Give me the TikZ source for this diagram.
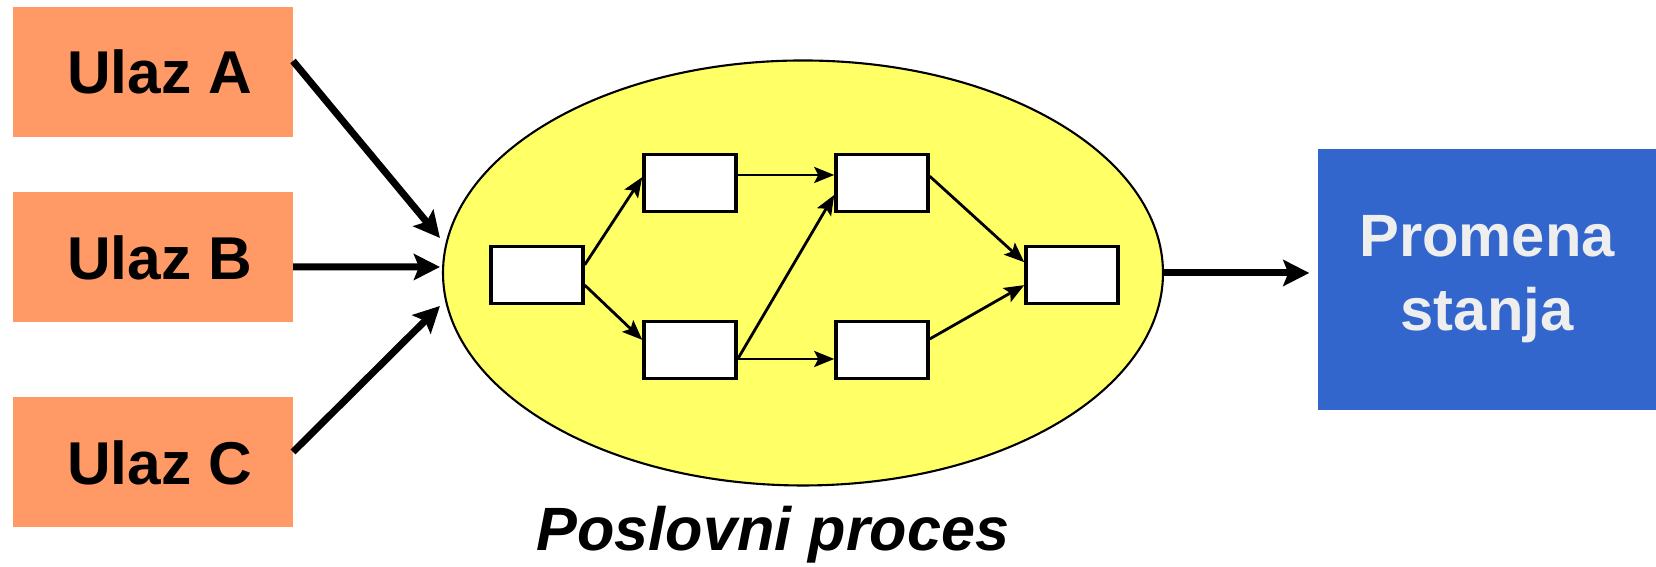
\documentclass[tikz,border=0pt]{standalone}
\usepackage{fontspec}
\setmainfont{Liberation Sans}
\usetikzlibrary{arrows.meta,shapes.geometric}

\definecolor{ulazfill}{HTML}{FF9966}
\definecolor{procfill}{HTML}{FFFF66}
\definecolor{stanjefill}{HTML}{3366CC}
\definecolor{stanjetext}{HTML}{EEEEEE}

\begin{document}
\begin{tikzpicture}[
  >={Stealth[length=2.6mm, width=2.6mm, inset=0.5mm]},
  ulaz/.style={fill=ulazfill, minimum width=2.80cm, minimum height=1.30cm,
               inner sep=0pt, outer sep=0pt, text depth=0pt,
               font=\fontsize{17.2}{20}\selectfont\bfseries},
  korak/.style={draw, fill=white, line width=1pt, minimum width=0.92cm,
                minimum height=0.57cm, inner sep=0pt},
  tok/.style={->, line width=0.8pt, >={Stealth[length=2mm, width=1.6mm, inset=0.4mm]}},
  debeo/.style={->, line width=2pt},
]
\useasboundingbox (0,0) rectangle (16.56,5.67);
% ulazi
\node[ulaz] (ua) at (1.53, 4.95)  {\hspace*{1.3mm}Ulaz A};
\node[ulaz] (ub) at (1.53, 3.095) {\hspace*{1.3mm}Ulaz B};
\node[ulaz] (uc) at (1.53, 1.045) {\hspace*{1.3mm}Ulaz C};
% poslovni proces
\node[draw, ellipse, fill=procfill, line width=0.6pt, inner sep=0pt,
      minimum width=7.20cm, minimum height=4.25cm] (proc) at (8.03, 2.94) {};
\node[font=\fontsize{17.4}{20}\selectfont\bfseries\itshape, anchor=base]
  (naziv) at (7.73, 0.16) {Poslovni proces};
\node[korak] (k1) at (5.37, 2.92) {};
\node[korak] (k2) at (6.90, 3.84) {};
\node[korak] (k3) at (6.90, 2.17) {};
\node[korak] (k4) at (8.82, 3.84) {};
\node[korak] (k5) at (8.82, 2.17) {};
\node[korak] (k6) at (10.72, 2.92) {};
\draw[tok] (k1.12) -- (k2.173);
\draw[tok] (k1.-12) -- (k3.168);
\draw[tok] ([yshift=0.8mm]k2.east) -- ([yshift=0.8mm]k4.west);
\draw[tok] ([yshift=-0.9mm]k3.east) -- ([yshift=-0.9mm]k5.west);
\draw[tok] ([yshift=-0.9mm]k3.east) -- (k4.194);
\draw[tok] (k4.8) -- (k6.165);
\draw[tok] (k5.13) -- (k6.-168);
% promena stanja
\node[fill=stanjefill, text=stanjetext, minimum width=3.38cm,
      minimum height=2.61cm, inner sep=0pt, align=center,
      font=\fontsize{17}{21}\selectfont\bfseries]
  (stanje) at (14.87, 2.875) {Promena\\stanja};
% strelice
\draw[debeo] ([yshift=1.1mm]ua.east) -- ([shift={(-0.02,0.35)}]proc.west);
\draw[debeo] ([yshift=-0.95mm]ub.east) -- ([shift={(-0.02,0.06)}]proc.west);
\draw[debeo] ([yshift=1.05mm]uc.east) -- ([shift={(-0.02,-0.33)}]proc.west);
\draw[debeo, shorten >=0.8mm] (proc.east) -- (proc.east -| stanje.west);
\end{tikzpicture}
\end{document}
